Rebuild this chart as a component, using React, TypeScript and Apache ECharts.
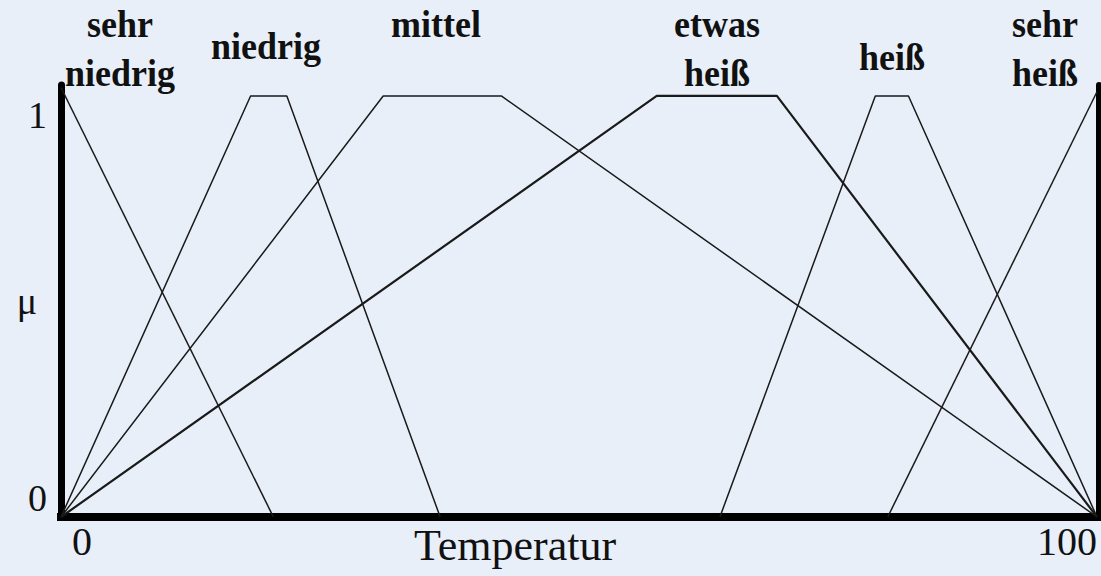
import React, { useEffect, useRef } from "react";
import * as echarts from "echarts";

// Fuzzy sets of "Temperatur" (x: temperature 0..100, mu: membership 0..1)
const setNames = ["sehr niedrig", "niedrig", "mittel", "etwas heiß", "heiß", "sehr heiß"];
const setTitles = ["sehr\nniedrig", "niedrig", "mittel", "etwas\nheiß", "heiß", "sehr\nheiß"];

const sehrNiedrigX = [0, 20.5];
const sehrNiedrigMu = [1.02, 0];
const niedrigX = [0, 18.3, 21.8, 36.6];
const niedrigMu = [0, 1, 1, 0];
const mittelX = [0, 31.1, 42.5, 100];
const mittelMu = [0, 1, 1, 0];
const etwasHeissX = [0, 57.5, 69.1, 100];
const etwasHeissMu = [0, 1, 1, 0];
const heissX = [63.6, 78.6, 81.8, 100];
const heissMu = [0, 1, 1, 0];
const sehrHeissX = [79.8, 100];
const sehrHeissMu = [0, 1.01];

const xTickLabels = [0, 100];
const yTickLabels = [0, 1];
const xAxisName = "Temperatur";
const yAxisName = "μ";

// layout for the set titles (pixel centres / tops)
const titleLayout = [
  { x: 120, y: 0 },
  { x: 266, y: 22 },
  { x: 436, y: 0 },
  { x: 717, y: 0 },
  { x: 892, y: 33 },
  { x: 1045, y: 0 },
];

const seriesX = [sehrNiedrigX, niedrigX, mittelX, etwasHeissX, heissX, sehrHeissX];
const seriesMu = [sehrNiedrigMu, niedrigMu, mittelMu, etwasHeissMu, heissMu, sehrHeissMu];

export default function App() {
  const ref = useRef<HTMLDivElement>(null);
  useEffect(() => {
    if (!ref.current) return;
    const chart = echarts.init(ref.current, undefined, { renderer: "svg" });
    const serif = "'Liberation Serif', 'Times New Roman', serif";
    const option: any = {
      animation: false,
      backgroundColor: "#e8eff9",
      grid: {
        left: 61,
        right: 4,
        top: 85,
        bottom: 59,
        containLabel: false,
        outerBoundsMode: "none",
      },
      xAxis: {
        type: "value",
        min: 0,
        max: 100,
        name: xAxisName,
        nameLocation: "middle",
        nameGap: 6,
        nameMoveOverlap: false,
        nameTextStyle: {
          fontFamily: serif,
          fontSize: 44,
          color: "#111",
          padding: [0, 128, 0, 0],
        },
        axisLine: { show: true, lineStyle: { color: "#000", width: 8, cap: "square" } },
        axisTick: { show: false },
        splitLine: { show: false },
        axisLabel: {
          customValues: xTickLabels,
          fontFamily: serif,
          fontSize: 40,
          color: "#111",
          margin: 4,
          alignMinLabel: "left",
          alignMaxLabel: "right",
          padding: [0, 0, 0, 11],
          formatter: (v: number) => String(v),
        },
      },
      yAxis: [
        {
          type: "value",
          min: 0,
          max: 1.026,
          position: "left",
          offset: 2,
          name: yAxisName,
          nameLocation: "middle",
          nameRotate: 0,
          nameGap: 22,
          nameMoveOverlap: false,
          nameTextStyle: {
            fontFamily: serif,
            fontSize: 38,
            color: "#111",
            padding: [0, 0, 16, 0],
          },
          axisLine: { show: true, lineStyle: { color: "#000", width: 7 } },
          axisTick: { show: false },
          splitLine: { show: false },
          axisLabel: {
            customValues: yTickLabels,
            fontFamily: serif,
            fontSize: 38,
            color: "#111",
            margin: 12,
            verticalAlignMinLabel: "bottom",
            verticalAlignMaxLabel: "top",
            formatter: (v: number) => String(v),
          },
        },
        {
          type: "value",
          min: 0,
          max: 1.026,
          position: "right",
          offset: 2,
          axisLine: { show: true, lineStyle: { color: "#000", width: 6 } },
          axisTick: { show: false },
          axisLabel: { show: false },
          splitLine: { show: false },
        },
      ],
      series: setNames.map((name, i) => ({
        name,
        type: "line",
        yAxisIndex: 0,
        symbol: "none",
        data: seriesX[i].map((x, j) => [x, seriesMu[i][j]]),
        lineStyle: { color: "#1a1a1a", width: i === 3 ? 2.2 : 1.5 },
        z: 3,
      })),
      graphic: setTitles.map((t, i) => ({
        type: "text",
        x: titleLayout[i].x,
        y: titleLayout[i].y,
        scaleY: 1.08,
        z: 10,
        style: {
          text: t,
          fontFamily: serif,
          fontWeight: "bold",
          fontSize: 36,
          lineHeight: 45,
          fill: "#111",
          align: "center",
          verticalAlign: "top",
        },
      })),
    };
    chart.setOption(option);
    return () => chart.dispose();
  }, []);
  return (
    <div
      ref={ref}
      style={{ position: "absolute", left: 0, top: 0, width: 1101, height: 576 }}
    />
  );
}
